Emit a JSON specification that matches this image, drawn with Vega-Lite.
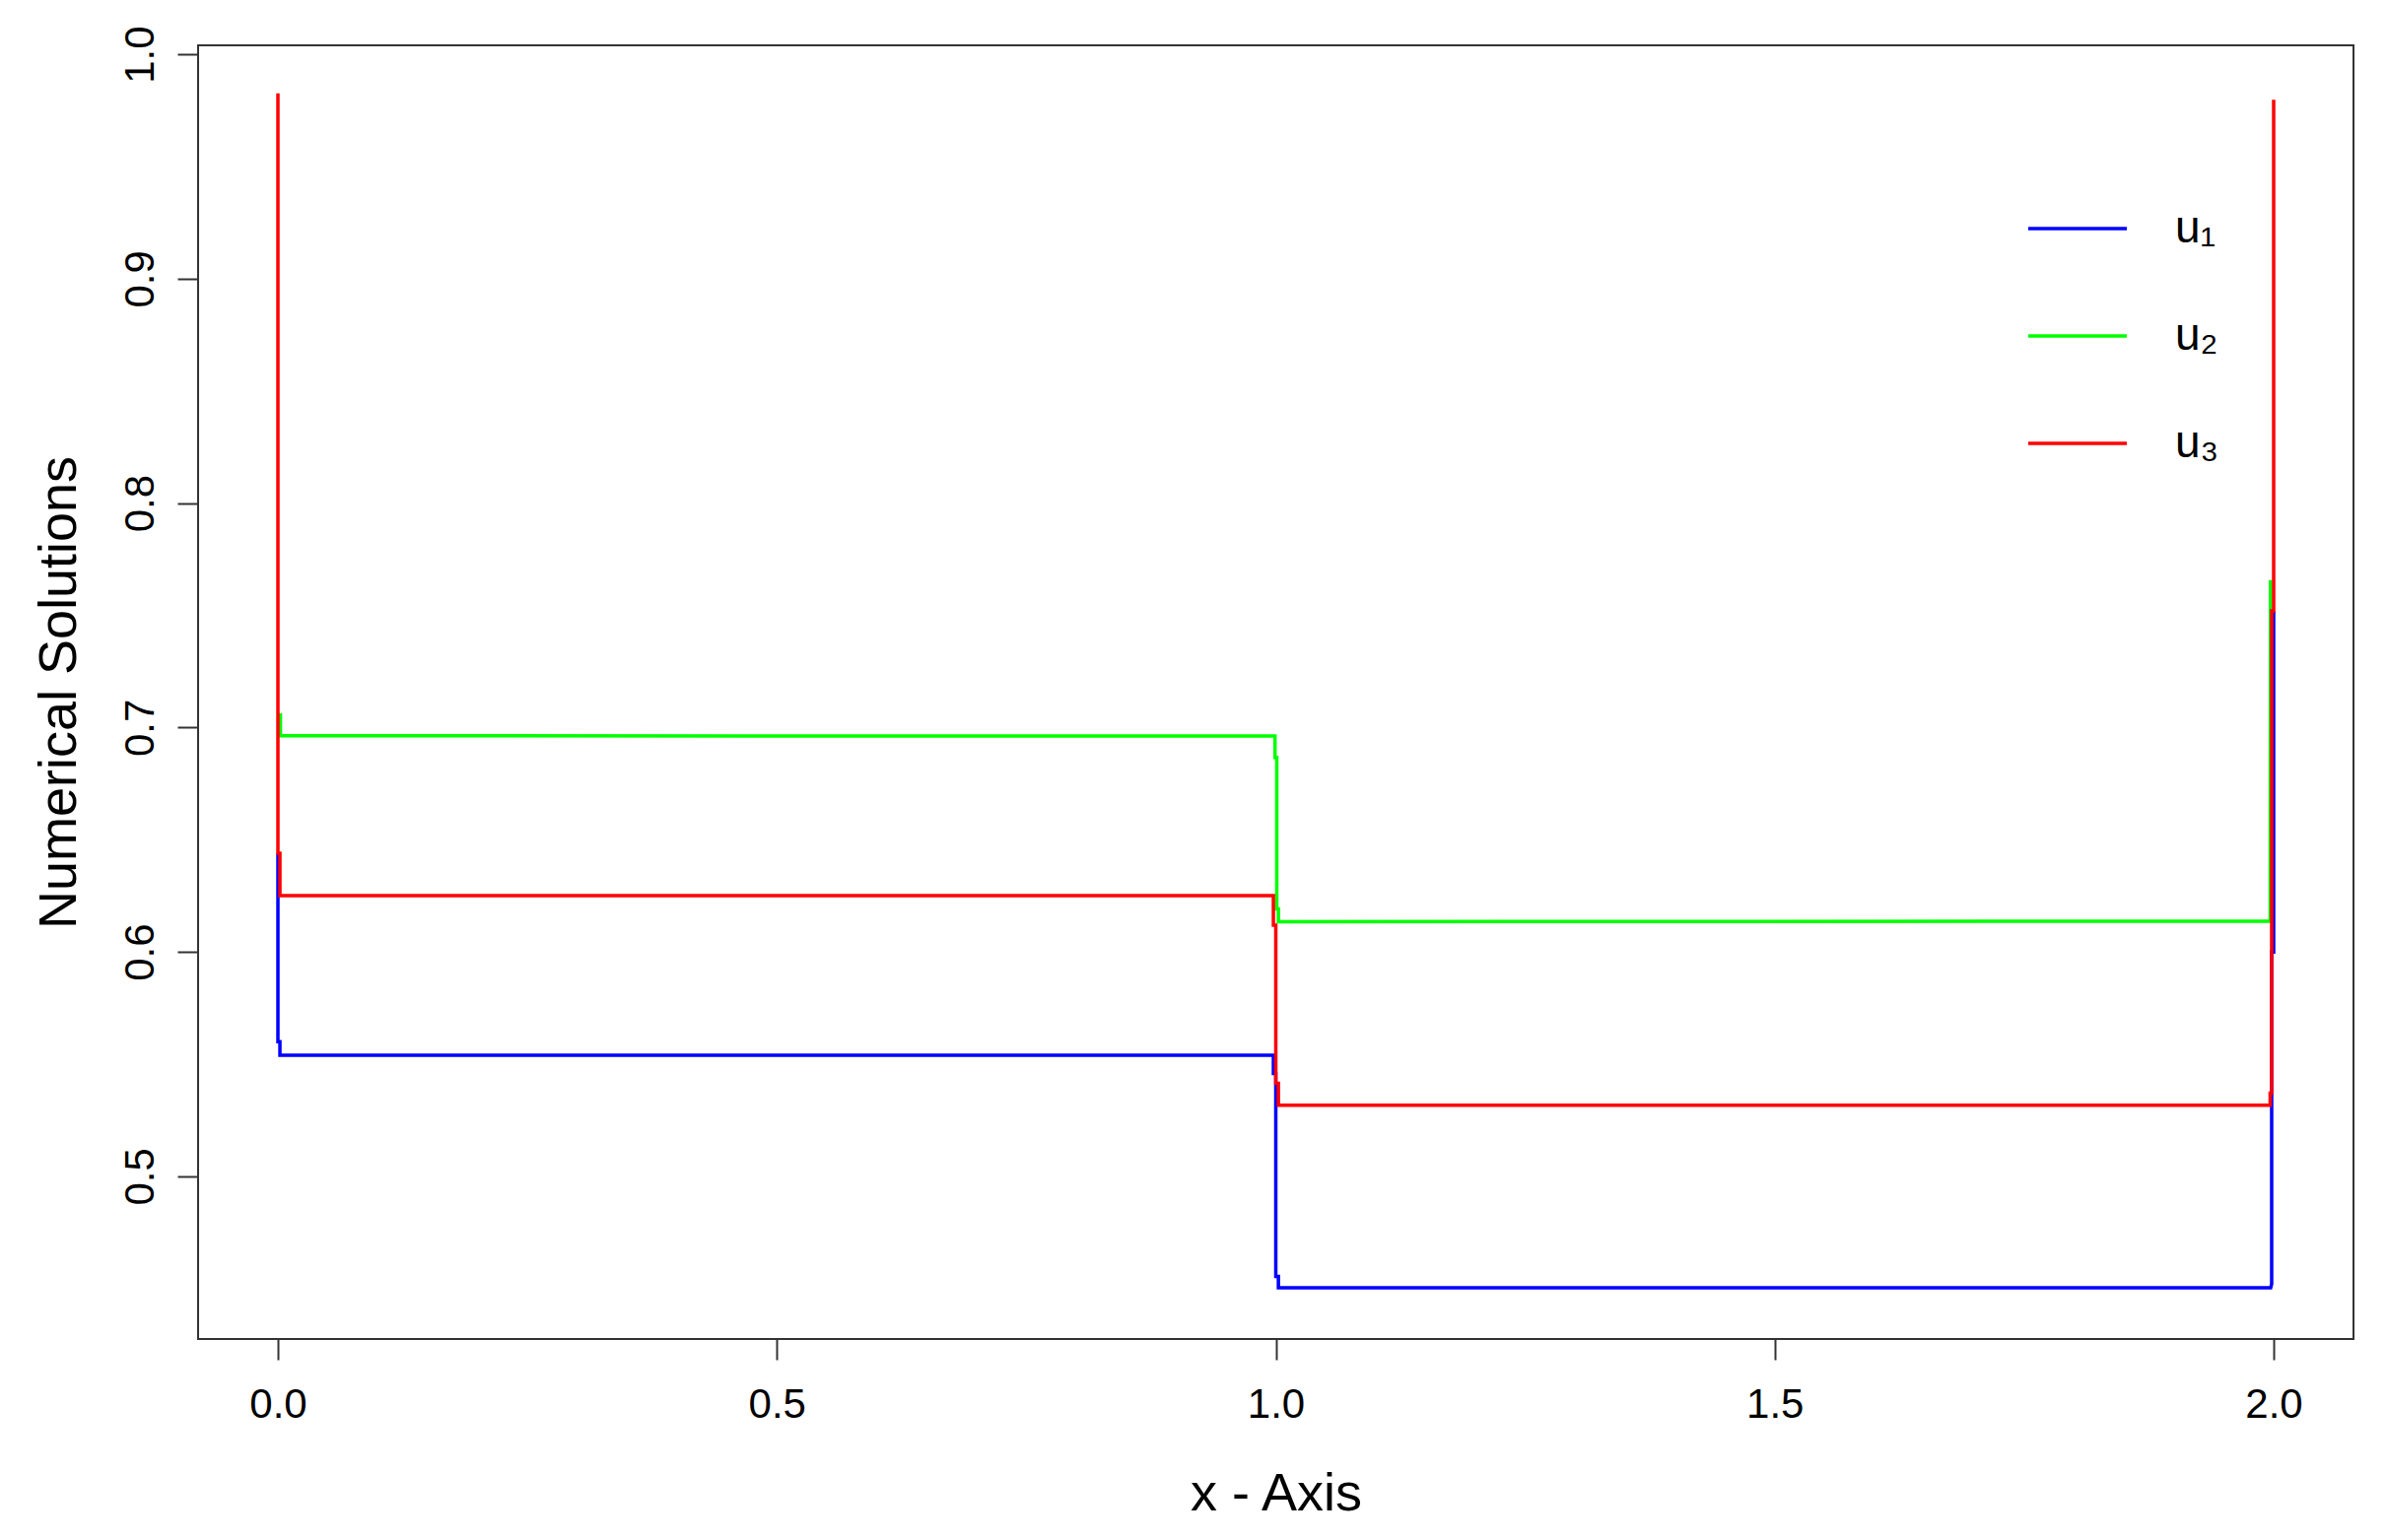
{
  "$schema": "https://vega.github.io/schema/vega-lite/v6.json",
  "width": 2187,
  "height": 1313,
  "autosize": {"type": "none"},
  "padding": {"left": 201, "top": 46, "right": 34, "bottom": 204},
  "background": "white",
  "data": {
    "values": [
      {"s": "u₁", "o": 1, "x": 0, "y": 0.644},
      {"s": "u₁", "o": 2, "x": 0, "y": 0.560},
      {"s": "u₁", "o": 3, "x": 0.002, "y": 0.560},
      {"s": "u₁", "o": 4, "x": 0.002, "y": 0.5540},
      {"s": "u₁", "o": 5, "x": 0.9976, "y": 0.5540},
      {"s": "u₁", "o": 6, "x": 0.9976, "y": 0.5458},
      {"s": "u₁", "o": 7, "x": 1.0, "y": 0.5458},
      {"s": "u₁", "o": 8, "x": 1.0, "y": 0.4554},
      {"s": "u₁", "o": 9, "x": 1.0026, "y": 0.4554},
      {"s": "u₁", "o": 10, "x": 1.0026, "y": 0.4503},
      {"s": "u₁", "o": 11, "x": 1.997, "y": 0.4503},
      {"s": "u₁", "o": 12, "x": 1.998, "y": 0.452},
      {"s": "u₁", "o": 13, "x": 1.998, "y": 0.600},
      {"s": "u₁", "o": 14, "x": 2.0, "y": 0.600},
      {"s": "u₁", "o": 15, "x": 2.0, "y": 0.752},
      {"s": "u₂", "o": 1, "x": 0.0025, "y": 0.7064},
      {"s": "u₂", "o": 2, "x": 0.0025, "y": 0.6963},
      {"s": "u₂", "o": 3, "x": 0.9992, "y": 0.6962},
      {"s": "u₂", "o": 4, "x": 0.9992, "y": 0.6867},
      {"s": "u₂", "o": 5, "x": 1.001, "y": 0.6867},
      {"s": "u₂", "o": 6, "x": 1.001, "y": 0.6191},
      {"s": "u₂", "o": 7, "x": 1.0026, "y": 0.6191},
      {"s": "u₂", "o": 8, "x": 1.0026, "y": 0.6135},
      {"s": "u₂", "o": 9, "x": 1.9965, "y": 0.6137},
      {"s": "u₂", "o": 10, "x": 1.9968, "y": 0.7657},
      {"s": "u₃", "o": 1, "x": 0, "y": 0.9826},
      {"s": "u₃", "o": 2, "x": 0, "y": 0.644},
      {"s": "u₃", "o": 3, "x": 0.002, "y": 0.644},
      {"s": "u₃", "o": 4, "x": 0.002, "y": 0.6251},
      {"s": "u₃", "o": 5, "x": 0.9976, "y": 0.6251},
      {"s": "u₃", "o": 6, "x": 0.9976, "y": 0.6119},
      {"s": "u₃", "o": 7, "x": 1.0, "y": 0.6119},
      {"s": "u₃", "o": 8, "x": 1.0, "y": 0.5414},
      {"s": "u₃", "o": 9, "x": 1.0026, "y": 0.5414},
      {"s": "u₃", "o": 10, "x": 1.0026, "y": 0.5317},
      {"s": "u₃", "o": 11, "x": 1.9965, "y": 0.5317},
      {"s": "u₃", "o": 12, "x": 1.9965, "y": 0.537},
      {"s": "u₃", "o": 13, "x": 1.998, "y": 0.537},
      {"s": "u₃", "o": 14, "x": 1.998, "y": 0.752},
      {"s": "u₃", "o": 15, "x": 2.0, "y": 0.752},
      {"s": "u₃", "o": 16, "x": 2.0, "y": 0.9797}
    ]
  },
  "mark": {"type": "line", "strokeWidth": 3.5, "interpolate": "linear"},
  "encoding": {
    "x": {
      "field": "x",
      "type": "quantitative",
      "scale": {"domain": [-0.08, 2.08], "nice": false, "zero": false},
      "axis": {
        "title": "x - Axis",
        "values": [0, 0.5, 1, 1.5, 2],
        "format": ".1f",
        "labelPadding": 25,
        "titlePadding": 43
      }
    },
    "y": {
      "field": "y",
      "type": "quantitative",
      "scale": {"domain": [0.4275, 1.004], "nice": false, "zero": false},
      "axis": {
        "title": "Numerical Solutions",
        "values": [0.5, 0.6, 0.7, 0.8, 0.9, 1.0],
        "format": ".1f",
        "labelAngle": -90,
        "labelAlign": "center",
        "labelBaseline": "alphabetic",
        "labelPadding": 25,
        "titlePadding": 34
      }
    },
    "color": {
      "field": "s",
      "type": "nominal",
      "scale": {"domain": ["u₁", "u₂", "u₃"], "range": ["#0000FF", "#00FF00", "#FF0000"]},
      "legend": {
        "title": null,
        "orient": "none",
        "legendX": 1855,
        "legendY": 134,
        "symbolType": "stroke",
        "symbolSize": 10000,
        "symbolStrokeWidth": 3.5,
        "labelFontSize": 46,
        "labelOffset": 47,
        "rowPadding": 34,
        "padding": 0
      }
    },
    "order": {"field": "o", "type": "quantitative"}
  },
  "config": {
    "font": "Liberation Sans",
    "view": {"stroke": "#333333", "strokeWidth": 2},
    "axis": {
      "grid": false,
      "domain": false,
      "ticks": true,
      "tickSize": 21,
      "tickWidth": 2,
      "tickColor": "#333333",
      "labelFont": "Liberation Sans",
      "labelFontSize": 42,
      "labelColor": "#000000",
      "titleFont": "Liberation Sans",
      "titleFontSize": 54,
      "titleFontWeight": "normal",
      "titleColor": "#000000"
    },
    "legend": {
      "labelFont": "Liberation Sans",
      "labelColor": "#000000"
    }
  }
}
